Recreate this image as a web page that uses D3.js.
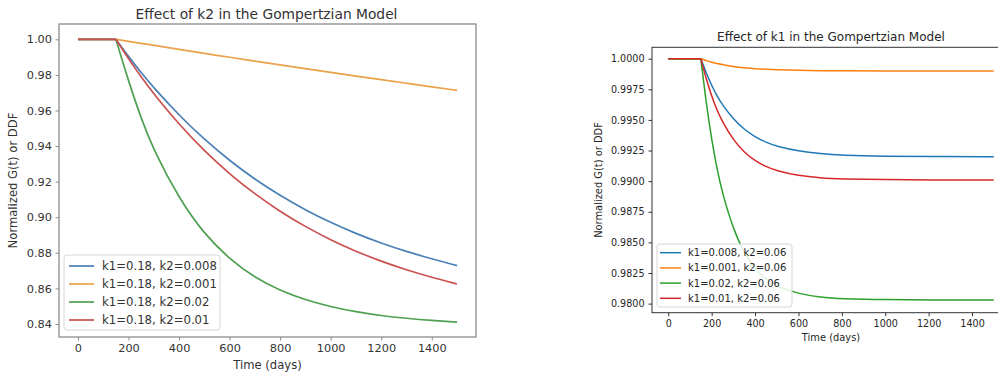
<!DOCTYPE html>
<html>
<head>
<meta charset="utf-8">
<script src="https://cdn.jsdelivr.net/npm/d3@7"></script>
<style>
  body { margin: 0; background: #fff; }
  svg { display: block; font-family: "DejaVu Sans", sans-serif; }
</style>
</head>
<body>
<svg id="chart" width="998" height="377"></svg>
<script>
// ---- left panel: effect of k2 (k1 fixed at 0.18) ----
const k2Days = [0, 150, 200, 250, 300, 400, 500, 600, 700, 800, 900, 1000, 1100, 1200, 1300, 1400, 1500];
const k2Labels = ['k1=0.18, k2=0.008', 'k1=0.18, k2=0.001', 'k1=0.18, k2=0.02', 'k1=0.18, k2=0.01'];
const k2Blue   = [1, 1, 0.9903, 0.9812, 0.9727, 0.9573, 0.9437, 0.9318, 0.9213, 0.9122, 0.9041, 0.8970, 0.8908, 0.8854, 0.8807, 0.8766, 0.8728];
const k2Orange = [1, 1, 0.9988, 0.9977, 0.9966, 0.9943, 0.9921, 0.9899, 0.9877, 0.9856, 0.9835, 0.9814, 0.9793, 0.9773, 0.9753, 0.9733, 0.9713];
const k2Green  = [1, 1, 0.9765, 0.9555, 0.9375, 0.9105, 0.8905, 0.8765, 0.8660, 0.8588, 0.8535, 0.8497, 0.8468, 0.8447, 0.8432, 0.8420, 0.8411];
const k2Red    = [1, 1, 0.9890, 0.9788, 0.9693, 0.9522, 0.9372, 0.9243, 0.9130, 0.9032, 0.8947, 0.8872, 0.8808, 0.8752, 0.8704, 0.8662, 0.8625];
const k2YTicks = [0.84, 0.86, 0.88, 0.90, 0.92, 0.94, 0.96, 0.98, 1.00];

// ---- right panel: effect of k1 (k2 fixed at 0.06) ----
const k1Days = [0, 150, 175, 200, 225, 250, 300, 350, 400, 450, 500, 600, 700, 800, 1000, 1200, 1500];
const k1Labels = ['k1=0.008, k2=0.06', 'k1=0.001, k2=0.06', 'k1=0.02, k2=0.06', 'k1=0.01, k2=0.06'];
const k1Blue   = [1, 1, 0.99882, 0.99781, 0.99695, 0.99622, 0.99506, 0.99422, 0.99362, 0.99317, 0.99285, 0.99245, 0.99224, 0.99212, 0.99203, 0.99201, 0.99200];
const k1Orange = [1, 1, 0.99984, 0.99971, 0.99960, 0.99951, 0.99936, 0.99926, 0.99918, 0.99913, 0.99909, 0.99905, 0.99902, 0.99901, 0.99900, 0.99900, 0.99900];
const k1Green  = [1, 1, 0.99635, 0.99338, 0.99095, 0.98898, 0.98606, 0.98412, 0.98284, 0.98198, 0.98142, 0.98080, 0.98052, 0.98040, 0.98032, 0.98030, 0.98030];
const k1Red    = [1, 1, 0.99833, 0.99694, 0.99578, 0.99482, 0.99336, 0.99235, 0.99166, 0.99118, 0.99084, 0.99045, 0.99027, 0.99018, 0.99012, 0.99010, 0.99010];
const k1YTicks = [0.98, 0.9825, 0.985, 0.9875, 0.99, 0.9925, 0.995, 0.9975, 1.0];

const xTicks = [0, 200, 400, 600, 800, 1000, 1200, 1400];
const onsetDay = 150;

const svg = d3.select('#chart');

function drawPanel(opt) {
  const x = d3.scaleLinear().domain([-75, 1575]).range([opt.left, opt.right]);
  const y = d3.scaleLinear().domain(opt.yDomain).range([opt.bottom, opt.top]);
  const g = svg.append('g');

  // axes (ticks + labels only, frame drawn separately)
  const xAxis = g.append('g')
    .attr('transform', `translate(0,${opt.bottom})`)
    .call(d3.axisBottom(x).tickValues(xTicks).tickFormat(d3.format('d'))
      .tickSize(3.5).tickPadding(opt.pad).tickSizeOuter(0));
  const yAxis = g.append('g')
    .attr('transform', `translate(${opt.left},0)`)
    .call(d3.axisLeft(y).tickValues(opt.yTicks).tickFormat(d3.format(opt.yFormat))
      .tickSize(3.5).tickPadding(opt.pad).tickSizeOuter(0));
  [xAxis, yAxis].forEach(a => {
    a.select('.domain').remove();
    a.selectAll('line').attr('stroke', opt.frameColor);
    a.selectAll('text')
      .attr('fill', opt.textColor)
      .style('font-family', '"DejaVu Sans", sans-serif')
      .style('font-size', opt.tickFont + 'px');
  });

  // series: flat segment before onset, smooth decay after
  const flat = d3.line().x(d => x(d[0])).y(d => y(d[1]));
  const decay = d3.line().x(d => x(d[0])).y(d => y(d[1])).curve(d3.curveBasis);
  opt.series.forEach((s, i) => {
    const pts = opt.days.map((t, j) => [t, s[j]]);
    g.append('path').attr('d', flat(pts.filter(p => p[0] <= onsetDay)))
      .attr('fill', 'none').attr('stroke', opt.colors[i]).attr('stroke-width', opt.lineWidth);
    g.append('path').attr('d', decay(pts.filter(p => p[0] >= onsetDay)))
      .attr('fill', 'none').attr('stroke', opt.colors[i]).attr('stroke-width', opt.lineWidth)
      .attr('stroke-linejoin', 'round');
  });

  // frame
  g.append('rect')
    .attr('x', opt.left).attr('y', opt.top)
    .attr('width', opt.right - opt.left).attr('height', opt.bottom - opt.top)
    .attr('fill', 'none').attr('stroke', opt.frameColor).attr('stroke-width', opt.frameWidth);

  // titles
  g.append('text')
    .attr('x', opt.titleX).attr('y', opt.titleY)
    .attr('text-anchor', 'middle').attr('fill', opt.textColor)
    .style('font-size', opt.titleFont + 'px')
    .text(opt.title);
  g.append('text')
    .attr('x', opt.xLabelX).attr('y', opt.xLabelY)
    .attr('text-anchor', 'middle').attr('fill', opt.textColor)
    .style('font-size', opt.labelFont + 'px')
    .text('Time (days)');
  g.append('text')
    .attr('transform', `translate(${opt.yLabelX},${(opt.top + opt.bottom) / 2}) rotate(-90)`)
    .attr('text-anchor', 'middle').attr('dy', '0.35em').attr('fill', opt.textColor)
    .style('font-size', opt.labelFont + 'px')
    .text('Normalized G(t) or DDF');

  // legend
  const lg = opt.legend;
  g.append('rect')
    .attr('x', lg.x).attr('y', lg.y).attr('width', lg.w).attr('height', lg.h)
    .attr('rx', 3).attr('fill', '#fff').attr('fill-opacity', 0.85)
    .attr('stroke', '#d6d6d6').attr('stroke-width', 1);
  opt.labels.forEach((label, i) => {
    const ry = lg.y + lg.first + i * lg.step;
    g.append('line')
      .attr('x1', lg.x + lg.h0).attr('x2', lg.x + lg.h1)
      .attr('y1', ry).attr('y2', ry)
      .attr('stroke', opt.colors[i]).attr('stroke-width', opt.lineWidth);
    g.append('text')
      .attr('x', lg.x + lg.tx).attr('y', ry).attr('dy', '0.35em')
      .attr('fill', opt.textColor)
      .style('font-size', opt.legendFont + 'px')
      .text(label);
  });
}

drawPanel({
  left: 59, right: 476, top: 24, bottom: 337,
  yDomain: [0.8327, 1.0086], yTicks: k2YTicks, yFormat: '.2f',
  days: k2Days, series: [k2Blue, k2Orange, k2Green, k2Red], labels: k2Labels,
  colors: ['#4a80b5', '#eaa24a', '#4fa052', '#c9504f'],
  lineWidth: 1.7, frameColor: '#8c8c8c', frameWidth: 1.3, textColor: '#333',
  tickFont: 11.3, labelFont: 11.6, titleFont: 13.8, legendFont: 11.7, pad: 3.5,
  title: 'Effect of k2 in the Gompertzian Model', titleX: 266.5, titleY: 19,
  xLabelX: 267.5, xLabelY: 369, yLabelX: 13,
  legend: { x: 64, y: 255, w: 156, h: 75, first: 11, step: 18, h0: 5, h1: 30, tx: 38 }
});

drawPanel({
  left: 652, right: 1010, top: 47.3, bottom: 312.7,
  yDomain: [0.97926, 1.00093], yTicks: k1YTicks, yFormat: '.4f',
  days: k1Days, series: [k1Blue, k1Orange, k1Green, k1Red], labels: k1Labels,
  colors: ['#1f77b4', '#ff7f0e', '#2ca02c', '#d62728'],
  lineWidth: 1.5, frameColor: '#333', frameWidth: 1, textColor: '#262626',
  tickFont: 9.6, labelFont: 9.9, titleFont: 12, legendFont: 10, pad: 4,
  title: 'Effect of k1 in the Gompertzian Model', titleX: 831, titleY: 41,
  xLabelX: 831, xLabelY: 341, yLabelX: 599,
  legend: { x: 657, y: 244, w: 135, h: 63, first: 8.7, step: 15.2, h0: 3, h1: 24, tx: 31 }
});
</script>
</body>
</html>
